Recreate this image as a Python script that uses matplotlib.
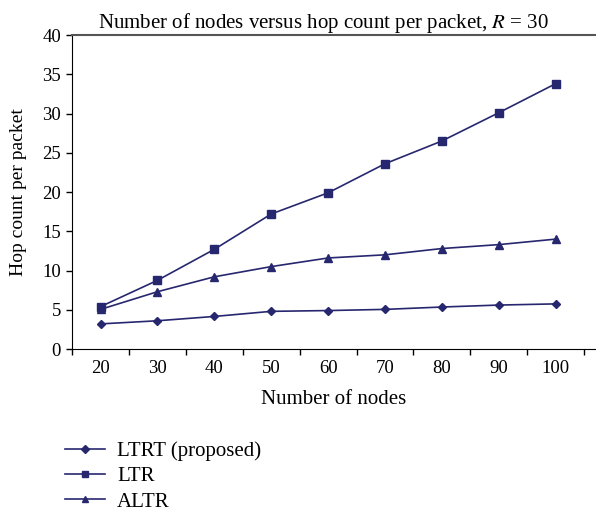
import matplotlib.pyplot as plt
from matplotlib.ticker import FixedLocator, NullFormatter

nodes = [20, 30, 40, 50, 60, 70, 80, 90, 100]
ltrt = [3.2, 3.6, 4.15, 4.8, 4.9, 5.05, 5.35, 5.6, 5.75]
ltr = [5.4, 8.75, 12.7, 17.2, 19.9, 23.6, 26.5, 30.1, 33.8]
altr = [5.05, 7.3, 9.2, 10.5, 11.6, 12.0, 12.8, 13.3, 14.0]

navy = "#27276f"
plt.rcParams["font.family"] = ["Liberation Serif", "DejaVu Serif"]
plt.rcParams["mathtext.fontset"] = "stix"

fig = plt.figure(figsize=(5.96, 5.16), dpi=100)
ax = fig.add_axes([0.121, 0.3236, 0.879, 0.6085])

pos = list(range(len(nodes)))
ax.plot(pos, ltrt, color=navy, lw=1.2, marker="D", ms=4.5, label="LTRT (proposed)")
ax.plot(pos, ltr, color=navy, lw=1.2, marker="s", ms=5.5, label="LTR")
ax.plot(pos, altr, color=navy, lw=1.2, marker="^", ms=6, label="ALTR")

# plot area runs a little past the last category, as in the original
ax.set_xlim(-0.5, len(nodes) - 0.29)
ax.set_ylim(0, 40)
ax.set_yticks(range(0, 41, 5))

# category ticks sit between the categories, labels at the centres
ax.set_xticks(pos)
ax.set_xticklabels([str(n) for n in nodes])
ax.xaxis.set_minor_locator(FixedLocator([p - 0.5 for p in range(len(nodes) + 1)]))
ax.xaxis.set_minor_formatter(NullFormatter())
ax.tick_params(axis="x", which="major", length=0, pad=8, labelsize=13.5)
ax.tick_params(axis="x", which="minor", length=4, width=1, direction="out")
ax.tick_params(axis="y", length=4, width=1, direction="out", labelsize=13.5, pad=4)

ax.spines["right"].set_visible(False)
ax.spines["top"].set_color("#555555")
ax.spines["top"].set_linewidth(1.5)
ax.spines["left"].set_color("black")
ax.spines["bottom"].set_color("black")

ax.set_title("Number of nodes versus hop count per packet, $\\mathit{R}$ = 30",
             fontsize=15, pad=3, x=0.48)
ax.set_xlabel("Number of nodes", fontsize=15, labelpad=9)
ax.set_ylabel("Hop count per packet", fontsize=14, labelpad=11)

fig.legend(loc="upper left", bbox_to_anchor=(0.109, 0.145), frameon=False,
           borderpad=0, borderaxespad=0, fontsize=15, handlelength=1.9,
           handletextpad=0.6, labelspacing=0.28, markerscale=0.8)

fig.savefig("out.png", dpi=100)
